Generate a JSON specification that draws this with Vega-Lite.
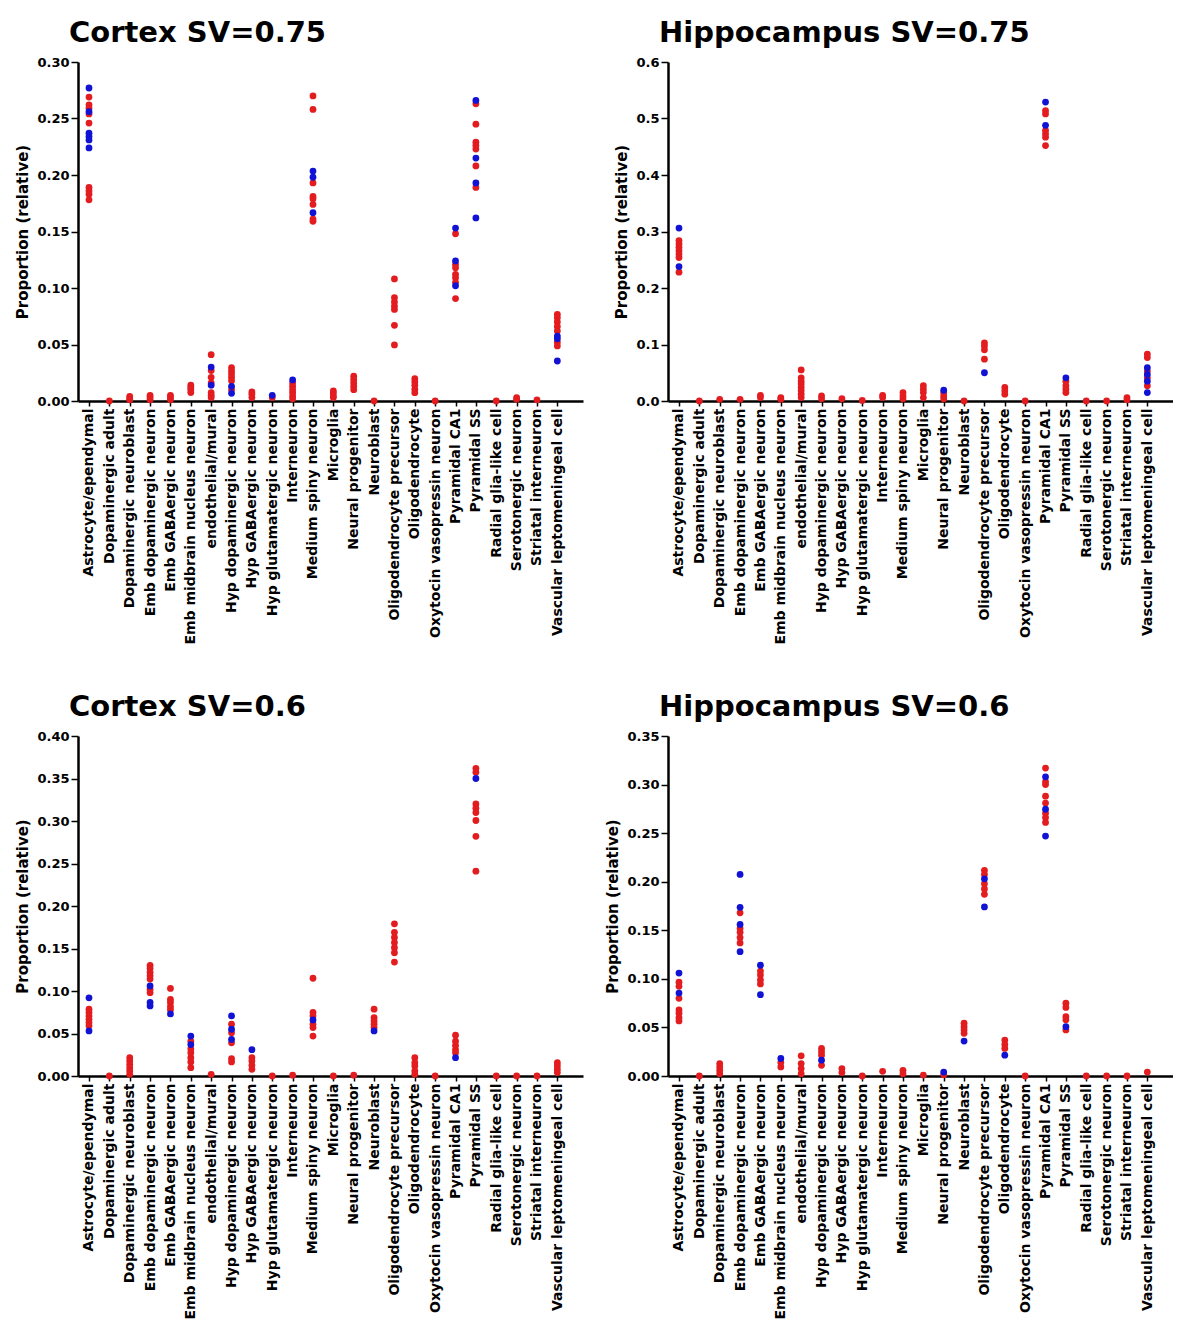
{
"$schema": "https://vega.github.io/schema/vega-lite/v6.json",
"padding": {"left": 15, "top": 19, "right": 0, "bottom": 0},
"background": "white",
"data": {"values": [
{"p":"A","c":"Astrocyte/ependymal","g":"r","v":0.269},{"p":"A","c":"Astrocyte/ependymal","g":"r","v":0.262},{"p":"A","c":"Astrocyte/ependymal","g":"r","v":0.259},{"p":"A","c":"Astrocyte/ependymal","g":"r","v":0.254},{"p":"A","c":"Astrocyte/ependymal","g":"r","v":0.246},{"p":"A","c":"Astrocyte/ependymal","g":"r","v":0.189},{"p":"A","c":"Astrocyte/ependymal","g":"r","v":0.186},{"p":"A","c":"Astrocyte/ependymal","g":"r","v":0.183},{"p":"A","c":"Astrocyte/ependymal","g":"r","v":0.178},
{"p":"A","c":"Dopaminergic adult","g":"r","v":0},
{"p":"A","c":"Dopaminergic neuroblast","g":"r","v":0.004},{"p":"A","c":"Dopaminergic neuroblast","g":"r","v":0.002},{"p":"A","c":"Dopaminergic neuroblast","g":"r","v":0.001},
{"p":"A","c":"Emb dopaminergic neuron","g":"r","v":0.005},{"p":"A","c":"Emb dopaminergic neuron","g":"r","v":0.003},{"p":"A","c":"Emb dopaminergic neuron","g":"r","v":0.001},
{"p":"A","c":"Emb GABAergic neuron","g":"r","v":0.005},{"p":"A","c":"Emb GABAergic neuron","g":"r","v":0.003},{"p":"A","c":"Emb GABAergic neuron","g":"r","v":0.001},
{"p":"A","c":"Emb midbrain nucleus neuron","g":"r","v":0.014},{"p":"A","c":"Emb midbrain nucleus neuron","g":"r","v":0.012},{"p":"A","c":"Emb midbrain nucleus neuron","g":"r","v":0.010},{"p":"A","c":"Emb midbrain nucleus neuron","g":"r","v":0.0075},
{"p":"A","c":"endothelial/mural","g":"r","v":0.041},{"p":"A","c":"endothelial/mural","g":"r","v":0.027},{"p":"A","c":"endothelial/mural","g":"r","v":0.021},{"p":"A","c":"endothelial/mural","g":"r","v":0.016},{"p":"A","c":"endothelial/mural","g":"r","v":0.0075},{"p":"A","c":"endothelial/mural","g":"r","v":0.005},{"p":"A","c":"endothelial/mural","g":"r","v":0.003},
{"p":"A","c":"Hyp dopaminergic neuron","g":"r","v":0.0295},{"p":"A","c":"Hyp dopaminergic neuron","g":"r","v":0.0265},{"p":"A","c":"Hyp dopaminergic neuron","g":"r","v":0.024},{"p":"A","c":"Hyp dopaminergic neuron","g":"r","v":0.021},{"p":"A","c":"Hyp dopaminergic neuron","g":"r","v":0.018},{"p":"A","c":"Hyp dopaminergic neuron","g":"r","v":0.010},
{"p":"A","c":"Hyp GABAergic neuron","g":"r","v":0.008},{"p":"A","c":"Hyp GABAergic neuron","g":"r","v":0.006},{"p":"A","c":"Hyp GABAergic neuron","g":"r","v":0.003},
{"p":"A","c":"Hyp glutamatergic neuron","g":"r","v":0.003},
{"p":"A","c":"Interneuron","g":"r","v":0.016},{"p":"A","c":"Interneuron","g":"r","v":0.013},{"p":"A","c":"Interneuron","g":"r","v":0.010},{"p":"A","c":"Interneuron","g":"r","v":0.0075},{"p":"A","c":"Interneuron","g":"r","v":0.0045},{"p":"A","c":"Interneuron","g":"r","v":0.002},
{"p":"A","c":"Medium spiny neuron","g":"r","v":0.270},{"p":"A","c":"Medium spiny neuron","g":"r","v":0.258},{"p":"A","c":"Medium spiny neuron","g":"r","v":0.193},{"p":"A","c":"Medium spiny neuron","g":"r","v":0.181},{"p":"A","c":"Medium spiny neuron","g":"r","v":0.179},{"p":"A","c":"Medium spiny neuron","g":"r","v":0.174},{"p":"A","c":"Medium spiny neuron","g":"r","v":0.161},{"p":"A","c":"Medium spiny neuron","g":"r","v":0.159},
{"p":"A","c":"Microglia","g":"r","v":0.009},{"p":"A","c":"Microglia","g":"r","v":0.007},{"p":"A","c":"Microglia","g":"r","v":0.0045},{"p":"A","c":"Microglia","g":"r","v":0.003},
{"p":"A","c":"Neural progenitor","g":"r","v":0.022},{"p":"A","c":"Neural progenitor","g":"r","v":0.019},{"p":"A","c":"Neural progenitor","g":"r","v":0.016},{"p":"A","c":"Neural progenitor","g":"r","v":0.013},{"p":"A","c":"Neural progenitor","g":"r","v":0.010},
{"p":"A","c":"Neuroblast","g":"r","v":0},
{"p":"A","c":"Oligodendrocyte precursor","g":"r","v":0.108},{"p":"A","c":"Oligodendrocyte precursor","g":"r","v":0.0915},{"p":"A","c":"Oligodendrocyte precursor","g":"r","v":0.0876},{"p":"A","c":"Oligodendrocyte precursor","g":"r","v":0.084},{"p":"A","c":"Oligodendrocyte precursor","g":"r","v":0.081},{"p":"A","c":"Oligodendrocyte precursor","g":"r","v":0.067},{"p":"A","c":"Oligodendrocyte precursor","g":"r","v":0.0496},
{"p":"A","c":"Oligodendrocyte","g":"r","v":0.0198},{"p":"A","c":"Oligodendrocyte","g":"r","v":0.0168},{"p":"A","c":"Oligodendrocyte","g":"r","v":0.0139},{"p":"A","c":"Oligodendrocyte","g":"r","v":0.0103},{"p":"A","c":"Oligodendrocyte","g":"r","v":0.0074},
{"p":"A","c":"Oxytocin vasopressin neuron","g":"r","v":0},
{"p":"A","c":"Pyramidal CA1","g":"r","v":0.148},{"p":"A","c":"Pyramidal CA1","g":"r","v":0.121},{"p":"A","c":"Pyramidal CA1","g":"r","v":0.118},{"p":"A","c":"Pyramidal CA1","g":"r","v":0.112},{"p":"A","c":"Pyramidal CA1","g":"r","v":0.109},{"p":"A","c":"Pyramidal CA1","g":"r","v":0.105},{"p":"A","c":"Pyramidal CA1","g":"r","v":0.0906},
{"p":"A","c":"Pyramidal SS","g":"r","v":0.263},{"p":"A","c":"Pyramidal SS","g":"r","v":0.245},{"p":"A","c":"Pyramidal SS","g":"r","v":0.229},{"p":"A","c":"Pyramidal SS","g":"r","v":0.226},{"p":"A","c":"Pyramidal SS","g":"r","v":0.223},{"p":"A","c":"Pyramidal SS","g":"r","v":0.208},{"p":"A","c":"Pyramidal SS","g":"r","v":0.189},
{"p":"A","c":"Radial glia-like cell","g":"r","v":0},
{"p":"A","c":"Serotonergic neuron","g":"r","v":0.003},{"p":"A","c":"Serotonergic neuron","g":"r","v":0.0015},
{"p":"A","c":"Striatal interneuron","g":"r","v":0.001},
{"p":"A","c":"Vascular leptomeningeal cell","g":"r","v":0.0767},{"p":"A","c":"Vascular leptomeningeal cell","g":"r","v":0.0737},{"p":"A","c":"Vascular leptomeningeal cell","g":"r","v":0.070},{"p":"A","c":"Vascular leptomeningeal cell","g":"r","v":0.066},{"p":"A","c":"Vascular leptomeningeal cell","g":"r","v":0.062},{"p":"A","c":"Vascular leptomeningeal cell","g":"r","v":0.052},{"p":"A","c":"Vascular leptomeningeal cell","g":"r","v":0.0487},

{"p":"B","c":"Astrocyte/ependymal","g":"r","v":0.284},{"p":"B","c":"Astrocyte/ependymal","g":"r","v":0.278},{"p":"B","c":"Astrocyte/ependymal","g":"r","v":0.272},{"p":"B","c":"Astrocyte/ependymal","g":"r","v":0.266},{"p":"B","c":"Astrocyte/ependymal","g":"r","v":0.260},{"p":"B","c":"Astrocyte/ependymal","g":"r","v":0.254},{"p":"B","c":"Astrocyte/ependymal","g":"r","v":0.228},
{"p":"B","c":"Dopaminergic adult","g":"r","v":0},
{"p":"B","c":"Dopaminergic neuroblast","g":"r","v":0.003},
{"p":"B","c":"Emb dopaminergic neuron","g":"r","v":0.003},
{"p":"B","c":"Emb GABAergic neuron","g":"r","v":0.010},{"p":"B","c":"Emb GABAergic neuron","g":"r","v":0.006},
{"p":"B","c":"Emb midbrain nucleus neuron","g":"r","v":0.006},{"p":"B","c":"Emb midbrain nucleus neuron","g":"r","v":0.003},
{"p":"B","c":"endothelial/mural","g":"r","v":0.055},{"p":"B","c":"endothelial/mural","g":"r","v":0.041},{"p":"B","c":"endothelial/mural","g":"r","v":0.035},{"p":"B","c":"endothelial/mural","g":"r","v":0.030},{"p":"B","c":"endothelial/mural","g":"r","v":0.024},{"p":"B","c":"endothelial/mural","g":"r","v":0.018},{"p":"B","c":"endothelial/mural","g":"r","v":0.012},{"p":"B","c":"endothelial/mural","g":"r","v":0.006},
{"p":"B","c":"Hyp dopaminergic neuron","g":"r","v":0.009},{"p":"B","c":"Hyp dopaminergic neuron","g":"r","v":0.004},
{"p":"B","c":"Hyp GABAergic neuron","g":"r","v":0.004},
{"p":"B","c":"Hyp glutamatergic neuron","g":"r","v":0.001},
{"p":"B","c":"Interneuron","g":"r","v":0.010},{"p":"B","c":"Interneuron","g":"r","v":0.006},
{"p":"B","c":"Medium spiny neuron","g":"r","v":0.015},{"p":"B","c":"Medium spiny neuron","g":"r","v":0.009},{"p":"B","c":"Medium spiny neuron","g":"r","v":0.004},
{"p":"B","c":"Microglia","g":"r","v":0.027},{"p":"B","c":"Microglia","g":"r","v":0.021},{"p":"B","c":"Microglia","g":"r","v":0.015},{"p":"B","c":"Microglia","g":"r","v":0.006},
{"p":"B","c":"Neural progenitor","g":"r","v":0.015},{"p":"B","c":"Neural progenitor","g":"r","v":0.009},{"p":"B","c":"Neural progenitor","g":"r","v":0.004},
{"p":"B","c":"Neuroblast","g":"r","v":0},
{"p":"B","c":"Oligodendrocyte precursor","g":"r","v":0.103},{"p":"B","c":"Oligodendrocyte precursor","g":"r","v":0.0975},{"p":"B","c":"Oligodendrocyte precursor","g":"r","v":0.0905},{"p":"B","c":"Oligodendrocyte precursor","g":"r","v":0.074},
{"p":"B","c":"Oligodendrocyte","g":"r","v":0.024},{"p":"B","c":"Oligodendrocyte","g":"r","v":0.018},{"p":"B","c":"Oligodendrocyte","g":"r","v":0.012},
{"p":"B","c":"Oxytocin vasopressin neuron","g":"r","v":0},
{"p":"B","c":"Pyramidal CA1","g":"r","v":0.514},{"p":"B","c":"Pyramidal CA1","g":"r","v":0.508},{"p":"B","c":"Pyramidal CA1","g":"r","v":0.479},{"p":"B","c":"Pyramidal CA1","g":"r","v":0.473},{"p":"B","c":"Pyramidal CA1","g":"r","v":0.467},{"p":"B","c":"Pyramidal CA1","g":"r","v":0.452},
{"p":"B","c":"Pyramidal SS","g":"r","v":0.035},{"p":"B","c":"Pyramidal SS","g":"r","v":0.027},{"p":"B","c":"Pyramidal SS","g":"r","v":0.021},{"p":"B","c":"Pyramidal SS","g":"r","v":0.015},
{"p":"B","c":"Radial glia-like cell","g":"r","v":0},
{"p":"B","c":"Serotonergic neuron","g":"r","v":0},
{"p":"B","c":"Striatal interneuron","g":"r","v":0.006},{"p":"B","c":"Striatal interneuron","g":"r","v":0.002},
{"p":"B","c":"Vascular leptomeningeal cell","g":"r","v":0.083},{"p":"B","c":"Vascular leptomeningeal cell","g":"r","v":0.077},{"p":"B","c":"Vascular leptomeningeal cell","g":"r","v":0.053},{"p":"B","c":"Vascular leptomeningeal cell","g":"r","v":0.041},{"p":"B","c":"Vascular leptomeningeal cell","g":"r","v":0.027},

{"p":"C","c":"Astrocyte/ependymal","g":"r","v":0.0786},{"p":"C","c":"Astrocyte/ependymal","g":"r","v":0.0747},{"p":"C","c":"Astrocyte/ependymal","g":"r","v":0.0707},{"p":"C","c":"Astrocyte/ependymal","g":"r","v":0.0668},{"p":"C","c":"Astrocyte/ependymal","g":"r","v":0.0629},{"p":"C","c":"Astrocyte/ependymal","g":"r","v":0.059},
{"p":"C","c":"Dopaminergic adult","g":"r","v":0},
{"p":"C","c":"Dopaminergic neuroblast","g":"r","v":0.0216},{"p":"C","c":"Dopaminergic neuroblast","g":"r","v":0.0177},{"p":"C","c":"Dopaminergic neuroblast","g":"r","v":0.0138},{"p":"C","c":"Dopaminergic neuroblast","g":"r","v":0.0098},{"p":"C","c":"Dopaminergic neuroblast","g":"r","v":0.006},{"p":"C","c":"Dopaminergic neuroblast","g":"r","v":0.002},
{"p":"C","c":"Emb dopaminergic neuron","g":"r","v":0.130},{"p":"C","c":"Emb dopaminergic neuron","g":"r","v":0.1265},{"p":"C","c":"Emb dopaminergic neuron","g":"r","v":0.122},{"p":"C","c":"Emb dopaminergic neuron","g":"r","v":0.118},{"p":"C","c":"Emb dopaminergic neuron","g":"r","v":0.114},{"p":"C","c":"Emb dopaminergic neuron","g":"r","v":0.102},{"p":"C","c":"Emb dopaminergic neuron","g":"r","v":0.098},
{"p":"C","c":"Emb GABAergic neuron","g":"r","v":0.103},{"p":"C","c":"Emb GABAergic neuron","g":"r","v":0.090},{"p":"C","c":"Emb GABAergic neuron","g":"r","v":0.0865},{"p":"C","c":"Emb GABAergic neuron","g":"r","v":0.0817},{"p":"C","c":"Emb GABAergic neuron","g":"r","v":0.078},
{"p":"C","c":"Emb midbrain nucleus neuron","g":"r","v":0.041},{"p":"C","c":"Emb midbrain nucleus neuron","g":"r","v":0.032},{"p":"C","c":"Emb midbrain nucleus neuron","g":"r","v":0.0275},{"p":"C","c":"Emb midbrain nucleus neuron","g":"r","v":0.0216},{"p":"C","c":"Emb midbrain nucleus neuron","g":"r","v":0.0165},{"p":"C","c":"Emb midbrain nucleus neuron","g":"r","v":0.0098},
{"p":"C","c":"endothelial/mural","g":"r","v":0.002},
{"p":"C","c":"Hyp dopaminergic neuron","g":"r","v":0.061},{"p":"C","c":"Hyp dopaminergic neuron","g":"r","v":0.051},{"p":"C","c":"Hyp dopaminergic neuron","g":"r","v":0.039},{"p":"C","c":"Hyp dopaminergic neuron","g":"r","v":0.0204},{"p":"C","c":"Hyp dopaminergic neuron","g":"r","v":0.0165},
{"p":"C","c":"Hyp GABAergic neuron","g":"r","v":0.0216},{"p":"C","c":"Hyp GABAergic neuron","g":"r","v":0.0177},{"p":"C","c":"Hyp GABAergic neuron","g":"r","v":0.0126},{"p":"C","c":"Hyp GABAergic neuron","g":"r","v":0.0079},
{"p":"C","c":"Hyp glutamatergic neuron","g":"r","v":0},
{"p":"C","c":"Interneuron","g":"r","v":0.001},
{"p":"C","c":"Medium spiny neuron","g":"r","v":0.115},{"p":"C","c":"Medium spiny neuron","g":"r","v":0.0747},{"p":"C","c":"Medium spiny neuron","g":"r","v":0.0707},{"p":"C","c":"Medium spiny neuron","g":"r","v":0.061},{"p":"C","c":"Medium spiny neuron","g":"r","v":0.057},{"p":"C","c":"Medium spiny neuron","g":"r","v":0.047},
{"p":"C","c":"Microglia","g":"r","v":0},
{"p":"C","c":"Neural progenitor","g":"r","v":0.001},
{"p":"C","c":"Neuroblast","g":"r","v":0.0786},{"p":"C","c":"Neuroblast","g":"r","v":0.0688},{"p":"C","c":"Neuroblast","g":"r","v":0.0648},{"p":"C","c":"Neuroblast","g":"r","v":0.061},{"p":"C","c":"Neuroblast","g":"r","v":0.057},
{"p":"C","c":"Oligodendrocyte precursor","g":"r","v":0.179},{"p":"C","c":"Oligodendrocyte precursor","g":"r","v":0.169},{"p":"C","c":"Oligodendrocyte precursor","g":"r","v":0.163},{"p":"C","c":"Oligodendrocyte precursor","g":"r","v":0.157},{"p":"C","c":"Oligodendrocyte precursor","g":"r","v":0.151},{"p":"C","c":"Oligodendrocyte precursor","g":"r","v":0.145},{"p":"C","c":"Oligodendrocyte precursor","g":"r","v":0.134},
{"p":"C","c":"Oligodendrocyte","g":"r","v":0.0216},{"p":"C","c":"Oligodendrocyte","g":"r","v":0.0157},{"p":"C","c":"Oligodendrocyte","g":"r","v":0.0118},{"p":"C","c":"Oligodendrocyte","g":"r","v":0.006},{"p":"C","c":"Oligodendrocyte","g":"r","v":0.002},
{"p":"C","c":"Oxytocin vasopressin neuron","g":"r","v":0},
{"p":"C","c":"Pyramidal CA1","g":"r","v":0.048},{"p":"C","c":"Pyramidal CA1","g":"r","v":0.041},{"p":"C","c":"Pyramidal CA1","g":"r","v":0.036},{"p":"C","c":"Pyramidal CA1","g":"r","v":0.031},{"p":"C","c":"Pyramidal CA1","g":"r","v":0.0275},
{"p":"C","c":"Pyramidal SS","g":"r","v":0.362},{"p":"C","c":"Pyramidal SS","g":"r","v":0.3575},{"p":"C","c":"Pyramidal SS","g":"r","v":0.320},{"p":"C","c":"Pyramidal SS","g":"r","v":0.315},{"p":"C","c":"Pyramidal SS","g":"r","v":0.310},{"p":"C","c":"Pyramidal SS","g":"r","v":0.3006},{"p":"C","c":"Pyramidal SS","g":"r","v":0.282},{"p":"C","c":"Pyramidal SS","g":"r","v":0.241},
{"p":"C","c":"Radial glia-like cell","g":"r","v":0},
{"p":"C","c":"Serotonergic neuron","g":"r","v":0},
{"p":"C","c":"Striatal interneuron","g":"r","v":0},
{"p":"C","c":"Vascular leptomeningeal cell","g":"r","v":0.0157},{"p":"C","c":"Vascular leptomeningeal cell","g":"r","v":0.0118},{"p":"C","c":"Vascular leptomeningeal cell","g":"r","v":0.0079},{"p":"C","c":"Vascular leptomeningeal cell","g":"r","v":0.004},

{"p":"D","c":"Astrocyte/ependymal","g":"r","v":0.0965},{"p":"D","c":"Astrocyte/ependymal","g":"r","v":0.0923},{"p":"D","c":"Astrocyte/ependymal","g":"r","v":0.080},{"p":"D","c":"Astrocyte/ependymal","g":"r","v":0.068},{"p":"D","c":"Astrocyte/ependymal","g":"r","v":0.0647},{"p":"D","c":"Astrocyte/ependymal","g":"r","v":0.060},{"p":"D","c":"Astrocyte/ependymal","g":"r","v":0.0567},
{"p":"D","c":"Dopaminergic adult","g":"r","v":0},
{"p":"D","c":"Dopaminergic neuroblast","g":"r","v":0.0128},{"p":"D","c":"Dopaminergic neuroblast","g":"r","v":0.0093},{"p":"D","c":"Dopaminergic neuroblast","g":"r","v":0.0059},{"p":"D","c":"Dopaminergic neuroblast","g":"r","v":0.0024},
{"p":"D","c":"Emb dopaminergic neuron","g":"r","v":0.168},{"p":"D","c":"Emb dopaminergic neuron","g":"r","v":0.152},{"p":"D","c":"Emb dopaminergic neuron","g":"r","v":0.148},{"p":"D","c":"Emb dopaminergic neuron","g":"r","v":0.1425},{"p":"D","c":"Emb dopaminergic neuron","g":"r","v":0.137},
{"p":"D","c":"Emb GABAergic neuron","g":"r","v":0.108},{"p":"D","c":"Emb GABAergic neuron","g":"r","v":0.104},{"p":"D","c":"Emb GABAergic neuron","g":"r","v":0.099},{"p":"D","c":"Emb GABAergic neuron","g":"r","v":0.0948},
{"p":"D","c":"Emb midbrain nucleus neuron","g":"r","v":0.0138},{"p":"D","c":"Emb midbrain nucleus neuron","g":"r","v":0.0093},
{"p":"D","c":"endothelial/mural","g":"r","v":0.0208},{"p":"D","c":"endothelial/mural","g":"r","v":0.0128},{"p":"D","c":"endothelial/mural","g":"r","v":0.0076},{"p":"D","c":"endothelial/mural","g":"r","v":0.0024},
{"p":"D","c":"Hyp dopaminergic neuron","g":"r","v":0.0284},{"p":"D","c":"Hyp dopaminergic neuron","g":"r","v":0.025},{"p":"D","c":"Hyp dopaminergic neuron","g":"r","v":0.0214},{"p":"D","c":"Hyp dopaminergic neuron","g":"r","v":0.011},
{"p":"D","c":"Hyp GABAergic neuron","g":"r","v":0.0076},{"p":"D","c":"Hyp GABAergic neuron","g":"r","v":0.0035},
{"p":"D","c":"Hyp glutamatergic neuron","g":"r","v":0},
{"p":"D","c":"Interneuron","g":"r","v":0.0048},
{"p":"D","c":"Medium spiny neuron","g":"r","v":0.0059},{"p":"D","c":"Medium spiny neuron","g":"r","v":0.0024},
{"p":"D","c":"Microglia","g":"r","v":0.001},
{"p":"D","c":"Neural progenitor","g":"r","v":0.0014},
{"p":"D","c":"Neuroblast","g":"r","v":0.0543},{"p":"D","c":"Neuroblast","g":"r","v":0.0508},{"p":"D","c":"Neuroblast","g":"r","v":0.0474},{"p":"D","c":"Neuroblast","g":"r","v":0.0439},
{"p":"D","c":"Oligodendrocyte precursor","g":"r","v":0.2117},{"p":"D","c":"Oligodendrocyte precursor","g":"r","v":0.2075},{"p":"D","c":"Oligodendrocyte precursor","g":"r","v":0.198},{"p":"D","c":"Oligodendrocyte precursor","g":"r","v":0.1926},{"p":"D","c":"Oligodendrocyte precursor","g":"r","v":0.187},
{"p":"D","c":"Oligodendrocyte","g":"r","v":0.037},{"p":"D","c":"Oligodendrocyte","g":"r","v":0.0325},{"p":"D","c":"Oligodendrocyte","g":"r","v":0.0284},
{"p":"D","c":"Oxytocin vasopressin neuron","g":"r","v":0},
{"p":"D","c":"Pyramidal CA1","g":"r","v":0.317},{"p":"D","c":"Pyramidal CA1","g":"r","v":0.303},{"p":"D","c":"Pyramidal CA1","g":"r","v":0.300},{"p":"D","c":"Pyramidal CA1","g":"r","v":0.288},{"p":"D","c":"Pyramidal CA1","g":"r","v":0.281},{"p":"D","c":"Pyramidal CA1","g":"r","v":0.2705},{"p":"D","c":"Pyramidal CA1","g":"r","v":0.266},{"p":"D","c":"Pyramidal CA1","g":"r","v":0.261},
{"p":"D","c":"Pyramidal SS","g":"r","v":0.075},{"p":"D","c":"Pyramidal SS","g":"r","v":0.0706},{"p":"D","c":"Pyramidal SS","g":"r","v":0.0612},{"p":"D","c":"Pyramidal SS","g":"r","v":0.0578},{"p":"D","c":"Pyramidal SS","g":"r","v":0.0474},
{"p":"D","c":"Radial glia-like cell","g":"r","v":0},
{"p":"D","c":"Serotonergic neuron","g":"r","v":0},
{"p":"D","c":"Striatal interneuron","g":"r","v":0},
{"p":"D","c":"Vascular leptomeningeal cell","g":"r","v":0.004},

{"p":"A","c":"Astrocyte/ependymal","g":"b","v":0.277},{"p":"A","c":"Astrocyte/ependymal","g":"b","v":0.256},{"p":"A","c":"Astrocyte/ependymal","g":"b","v":0.237},{"p":"A","c":"Astrocyte/ependymal","g":"b","v":0.234},{"p":"A","c":"Astrocyte/ependymal","g":"b","v":0.231},{"p":"A","c":"Astrocyte/ependymal","g":"b","v":0.224},
{"p":"A","c":"endothelial/mural","g":"b","v":0.030},{"p":"A","c":"endothelial/mural","g":"b","v":0.014},
{"p":"A","c":"Hyp dopaminergic neuron","g":"b","v":0.013},{"p":"A","c":"Hyp dopaminergic neuron","g":"b","v":0.0068},
{"p":"A","c":"Hyp glutamatergic neuron","g":"b","v":0.005},
{"p":"A","c":"Interneuron","g":"b","v":0.0186},
{"p":"A","c":"Medium spiny neuron","g":"b","v":0.2035},{"p":"A","c":"Medium spiny neuron","g":"b","v":0.198},{"p":"A","c":"Medium spiny neuron","g":"b","v":0.1667},
{"p":"A","c":"Pyramidal CA1","g":"b","v":0.153},{"p":"A","c":"Pyramidal CA1","g":"b","v":0.124},{"p":"A","c":"Pyramidal CA1","g":"b","v":0.102},
{"p":"A","c":"Pyramidal SS","g":"b","v":0.266},{"p":"A","c":"Pyramidal SS","g":"b","v":0.215},{"p":"A","c":"Pyramidal SS","g":"b","v":0.193},{"p":"A","c":"Pyramidal SS","g":"b","v":0.162},
{"p":"A","c":"Vascular leptomeningeal cell","g":"b","v":0.0575},{"p":"A","c":"Vascular leptomeningeal cell","g":"b","v":0.055},{"p":"A","c":"Vascular leptomeningeal cell","g":"b","v":0.0354},

{"p":"B","c":"Astrocyte/ependymal","g":"b","v":0.306},{"p":"B","c":"Astrocyte/ependymal","g":"b","v":0.238},
{"p":"B","c":"Neural progenitor","g":"b","v":0.019},
{"p":"B","c":"Oligodendrocyte precursor","g":"b","v":0.050},
{"p":"B","c":"Pyramidal CA1","g":"b","v":0.529},{"p":"B","c":"Pyramidal CA1","g":"b","v":0.488},
{"p":"B","c":"Pyramidal SS","g":"b","v":0.041},
{"p":"B","c":"Vascular leptomeningeal cell","g":"b","v":0.059},{"p":"B","c":"Vascular leptomeningeal cell","g":"b","v":0.047},{"p":"B","c":"Vascular leptomeningeal cell","g":"b","v":0.035},{"p":"B","c":"Vascular leptomeningeal cell","g":"b","v":0.015},

{"p":"C","c":"Astrocyte/ependymal","g":"b","v":0.092},{"p":"C","c":"Astrocyte/ependymal","g":"b","v":0.053},
{"p":"C","c":"Emb dopaminergic neuron","g":"b","v":0.106},{"p":"C","c":"Emb dopaminergic neuron","g":"b","v":0.0865},{"p":"C","c":"Emb dopaminergic neuron","g":"b","v":0.0825},
{"p":"C","c":"Emb GABAergic neuron","g":"b","v":0.073},
{"p":"C","c":"Emb midbrain nucleus neuron","g":"b","v":0.047},{"p":"C","c":"Emb midbrain nucleus neuron","g":"b","v":0.037},
{"p":"C","c":"Hyp dopaminergic neuron","g":"b","v":0.0707},{"p":"C","c":"Hyp dopaminergic neuron","g":"b","v":0.055},{"p":"C","c":"Hyp dopaminergic neuron","g":"b","v":0.043},
{"p":"C","c":"Hyp GABAergic neuron","g":"b","v":0.031},
{"p":"C","c":"Medium spiny neuron","g":"b","v":0.066},
{"p":"C","c":"Neuroblast","g":"b","v":0.053},
{"p":"C","c":"Pyramidal CA1","g":"b","v":0.0216},
{"p":"C","c":"Pyramidal SS","g":"b","v":0.350},

{"p":"D","c":"Astrocyte/ependymal","g":"b","v":0.106},{"p":"D","c":"Astrocyte/ependymal","g":"b","v":0.0854},
{"p":"D","c":"Emb dopaminergic neuron","g":"b","v":0.2075},{"p":"D","c":"Emb dopaminergic neuron","g":"b","v":0.1736},{"p":"D","c":"Emb dopaminergic neuron","g":"b","v":0.156},{"p":"D","c":"Emb dopaminergic neuron","g":"b","v":0.128},
{"p":"D","c":"Emb GABAergic neuron","g":"b","v":0.114},{"p":"D","c":"Emb GABAergic neuron","g":"b","v":0.0837},
{"p":"D","c":"Emb midbrain nucleus neuron","g":"b","v":0.018},
{"p":"D","c":"Hyp dopaminergic neuron","g":"b","v":0.0163},
{"p":"D","c":"Neural progenitor","g":"b","v":0.004},
{"p":"D","c":"Neuroblast","g":"b","v":0.036},
{"p":"D","c":"Oligodendrocyte precursor","g":"b","v":0.203},{"p":"D","c":"Oligodendrocyte precursor","g":"b","v":0.174},
{"p":"D","c":"Oligodendrocyte","g":"b","v":0.0214},
{"p":"D","c":"Pyramidal CA1","g":"b","v":0.308},{"p":"D","c":"Pyramidal CA1","g":"b","v":0.2746},{"p":"D","c":"Pyramidal CA1","g":"b","v":0.247},
{"p":"D","c":"Pyramidal SS","g":"b","v":0.0508}
]},
"columns": 2,
"spacing": {"row": 48, "column": 22},
"concat": [
{
 "title": {"text": "Cortex SV=0.75"},
 "width": 505, "height": 339,
 "transform": [{"filter": "datum.p === 'A'"}],
 "mark": {"type": "circle", "size": 46, "opacity": 1},
 "encoding": {
  "x": {"field": "c", "type": "nominal", "sort": null, "scale": {"domain": ["Astrocyte/ependymal","Dopaminergic adult","Dopaminergic neuroblast","Emb dopaminergic neuron","Emb GABAergic neuron","Emb midbrain nucleus neuron","endothelial/mural","Hyp dopaminergic neuron","Hyp GABAergic neuron","Hyp glutamatergic neuron","Interneuron","Medium spiny neuron","Microglia","Neural progenitor","Neuroblast","Oligodendrocyte precursor","Oligodendrocyte","Oxytocin vasopressin neuron","Pyramidal CA1","Pyramidal SS","Radial glia-like cell","Serotonergic neuron","Striatal interneuron","Vascular leptomeningeal cell"], "padding": 0.9, "align": 0.3}, "axis": {"title": null}},
  "y": {"field": "v", "type": "quantitative", "scale": {"domain": [0, 0.3], "nice": false}, "axis": {"values": [0, 0.05, 0.1, 0.15, 0.2, 0.25, 0.3], "format": ".2f", "title": "Proportion (relative)"}},
  "color": {"field": "g", "type": "nominal", "scale": {"domain": ["r", "b"], "range": ["#e31c1f", "#1212d4"]}, "legend": null}
 }
},
{
 "title": {"text": "Hippocampus SV=0.75"},
 "width": 505, "height": 339,
 "transform": [{"filter": "datum.p === 'B'"}],
 "mark": {"type": "circle", "size": 46, "opacity": 1},
 "encoding": {
  "x": {"field": "c", "type": "nominal", "sort": null, "scale": {"domain": ["Astrocyte/ependymal","Dopaminergic adult","Dopaminergic neuroblast","Emb dopaminergic neuron","Emb GABAergic neuron","Emb midbrain nucleus neuron","endothelial/mural","Hyp dopaminergic neuron","Hyp GABAergic neuron","Hyp glutamatergic neuron","Interneuron","Medium spiny neuron","Microglia","Neural progenitor","Neuroblast","Oligodendrocyte precursor","Oligodendrocyte","Oxytocin vasopressin neuron","Pyramidal CA1","Pyramidal SS","Radial glia-like cell","Serotonergic neuron","Striatal interneuron","Vascular leptomeningeal cell"], "padding": 0.9, "align": 0.3}, "axis": {"title": null}},
  "y": {"field": "v", "type": "quantitative", "scale": {"domain": [0, 0.6], "nice": false}, "axis": {"values": [0, 0.1, 0.2, 0.3, 0.4, 0.5, 0.6], "format": ".1f", "title": "Proportion (relative)"}},
  "color": {"field": "g", "type": "nominal", "scale": {"domain": ["r", "b"], "range": ["#e31c1f", "#1212d4"]}, "legend": null}
 }
},
{
 "title": {"text": "Cortex SV=0.6"},
 "width": 505, "height": 340,
 "transform": [{"filter": "datum.p === 'C'"}],
 "mark": {"type": "circle", "size": 46, "opacity": 1},
 "encoding": {
  "x": {"field": "c", "type": "nominal", "sort": null, "scale": {"domain": ["Astrocyte/ependymal","Dopaminergic adult","Dopaminergic neuroblast","Emb dopaminergic neuron","Emb GABAergic neuron","Emb midbrain nucleus neuron","endothelial/mural","Hyp dopaminergic neuron","Hyp GABAergic neuron","Hyp glutamatergic neuron","Interneuron","Medium spiny neuron","Microglia","Neural progenitor","Neuroblast","Oligodendrocyte precursor","Oligodendrocyte","Oxytocin vasopressin neuron","Pyramidal CA1","Pyramidal SS","Radial glia-like cell","Serotonergic neuron","Striatal interneuron","Vascular leptomeningeal cell"], "padding": 0.9, "align": 0.3}, "axis": {"title": null}},
  "y": {"field": "v", "type": "quantitative", "scale": {"domain": [0, 0.4], "nice": false}, "axis": {"values": [0, 0.05, 0.1, 0.15, 0.2, 0.25, 0.3, 0.35, 0.4], "format": ".2f", "title": "Proportion (relative)"}},
  "color": {"field": "g", "type": "nominal", "scale": {"domain": ["r", "b"], "range": ["#e31c1f", "#1212d4"]}, "legend": null}
 }
},
{
 "title": {"text": "Hippocampus SV=0.6"},
 "width": 505, "height": 340,
 "transform": [{"filter": "datum.p === 'D'"}],
 "mark": {"type": "circle", "size": 46, "opacity": 1},
 "encoding": {
  "x": {"field": "c", "type": "nominal", "sort": null, "scale": {"domain": ["Astrocyte/ependymal","Dopaminergic adult","Dopaminergic neuroblast","Emb dopaminergic neuron","Emb GABAergic neuron","Emb midbrain nucleus neuron","endothelial/mural","Hyp dopaminergic neuron","Hyp GABAergic neuron","Hyp glutamatergic neuron","Interneuron","Medium spiny neuron","Microglia","Neural progenitor","Neuroblast","Oligodendrocyte precursor","Oligodendrocyte","Oxytocin vasopressin neuron","Pyramidal CA1","Pyramidal SS","Radial glia-like cell","Serotonergic neuron","Striatal interneuron","Vascular leptomeningeal cell"], "padding": 0.9, "align": 0.3}, "axis": {"title": null}},
  "y": {"field": "v", "type": "quantitative", "scale": {"domain": [0, 0.35], "nice": false}, "axis": {"values": [0, 0.05, 0.1, 0.15, 0.2, 0.25, 0.3, 0.35], "format": ".2f", "title": "Proportion (relative)"}},
  "color": {"field": "g", "type": "nominal", "scale": {"domain": ["r", "b"], "range": ["#e31c1f", "#1212d4"]}, "legend": null}
 }
}
],
"config": {
 "view": {"stroke": null},
 "axis": {"domainColor": "black", "domainWidth": 2.5, "tickColor": "black", "tickWidth": 1.5, "labelFont": "DejaVu Sans", "labelFontWeight": "bold", "labelColor": "black", "titleFont": "DejaVu Sans", "titleFontWeight": "bold", "titleColor": "black", "grid": false},
 "axisX": {"labelFontSize": 14, "labelAngle": -90, "tickSize": 5, "labelPadding": 2, "labelLimit": 0},
 "axisY": {"labelFontSize": 13, "tickSize": 7, "labelPadding": 2, "titleFontSize": 15, "titlePadding": 6},
 "title": {"font": "DejaVu Sans", "fontSize": 29, "fontWeight": "bold", "anchor": "start", "frame": "group", "color": "black", "dx": -9, "offset": 8}
}
}
